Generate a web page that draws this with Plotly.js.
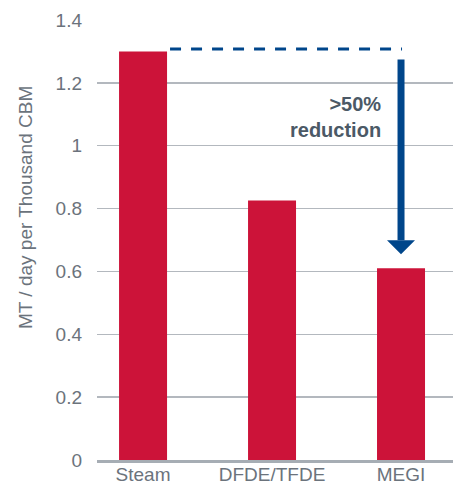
<!DOCTYPE html>
<html>
<head>
<meta charset="utf-8">
<script src="https://cdn.plot.ly/plotly-3.0.1.min.js"></script>
<style>
html,body{margin:0;padding:0;background:#fff;}
#chart{width:453px;height:487px;}
</style>
</head>
<body>
<div id="chart"></div>
<script>
const categories = ["Steam", "DFDE/TFDE", "MEGI"];
const values = [1.30, 0.826, 0.61];
const yTicks = [0, 0.2, 0.4, 0.6, 0.8, 1, 1.2, 1.4];
const yTickLabels = ["0", "0.2", "0.4", "0.6", "0.8", "1", "1.2", "1.4"];
const yTitle = "MT / day per Thousand CBM";
const noteText = ">50%<br>reduction";

const barColor = "#cc1339";
const arrowColor = "#00468b";
const textGray = "#6b737c";

// helper: pixel-ish sizes converted to data units
const pxX = 1 / 129;      // category units per px
const pxY = 1.4 / 440;    // y units per px

const first = 0, last = categories.length - 1;
const barHalf = 24 * pxX;
const dashY = values[first] + 2.5 * pxY;
const arrowTop = values[first] - 8 * pxY;
const tipY = values[last] + 14 * pxY;
const headBase = tipY + 14 * pxY;
const headHalf = 14 * pxX;

const trace = {
  type: "bar",
  x: [0, 1, 2],
  y: values,
  marker: {color: barColor},
  width: 48 * pxX,
  hoverinfo: "skip"
};

const layout = {
  width: 453, height: 487,
  margin: {l: 97, r: 0, t: 20, b: 27},
  paper_bgcolor: "#fff", plot_bgcolor: "#fff",
  showlegend: false,
  font: {family: "Liberation Sans, Arial, sans-serif", color: textGray, size: 20},
  xaxis: {
    range: [-0.357, 2.403],
    tickmode: "array", tickvals: [0, 1, 2], ticktext: categories,
    showgrid: false, zeroline: false,
    showline: true, linecolor: "#a6adb4", linewidth: 3,
    ticks: "", tickfont: {size: 19, color: textGray},
    ticklabelstandoff: -5,
    automargin: false, fixedrange: true
  },
  yaxis: {
    range: [0, 1.4],
    tickmode: "array", tickvals: yTicks, ticktext: yTickLabels,
    showgrid: true, gridcolor: "#b3b8be", gridwidth: 1.5,
    zeroline: false, showline: false, ticks: "",
    tickfont: {size: 19, color: textGray},
    ticklabelstandoff: 14,
    automargin: false, fixedrange: true
  },
  shapes: [
    {type: "line", xref: "x", yref: "y",
     x0: first + barHalf + 3 * pxX, x1: last + 1 * pxX, y0: dashY, y1: dashY,
     line: {color: arrowColor, width: 3, dash: "11px,10px"}},
    {type: "line", xref: "x", yref: "y",
     x0: last, x1: last, y0: arrowTop, y1: headBase,
     line: {color: arrowColor, width: 7}},
    {type: "path", xref: "x", yref: "y",
     path: "M " + (last - headHalf) + "," + headBase + " L " + (last + headHalf) + "," + headBase +
           " L " + last + "," + tipY + " Z",
     fillcolor: arrowColor, line: {width: 0}}
  ],
  annotations: [
    {xref: "paper", yref: "paper", x: -97/356 + 25/356, y: 1 - (208 - 20)/440,
     text: yTitle, textangle: -90, showarrow: false,
     xanchor: "center", yanchor: "middle",
     font: {size: 19, color: textGray}},
    {xref: "x", yref: "y", x: last - 18 * pxX, y: 1.09,
     text: noteText, showarrow: false, align: "right",
     xanchor: "right", yanchor: "middle",
     font: {size: 20, color: "#4b5966", family: "Liberation Sans, Arial, sans-serif", weight: "bold"}}
  ]
};

Plotly.newPlot("chart", [trace], layout, {displayModeBar: false, staticPlot: true});
</script>
</body>
</html>
